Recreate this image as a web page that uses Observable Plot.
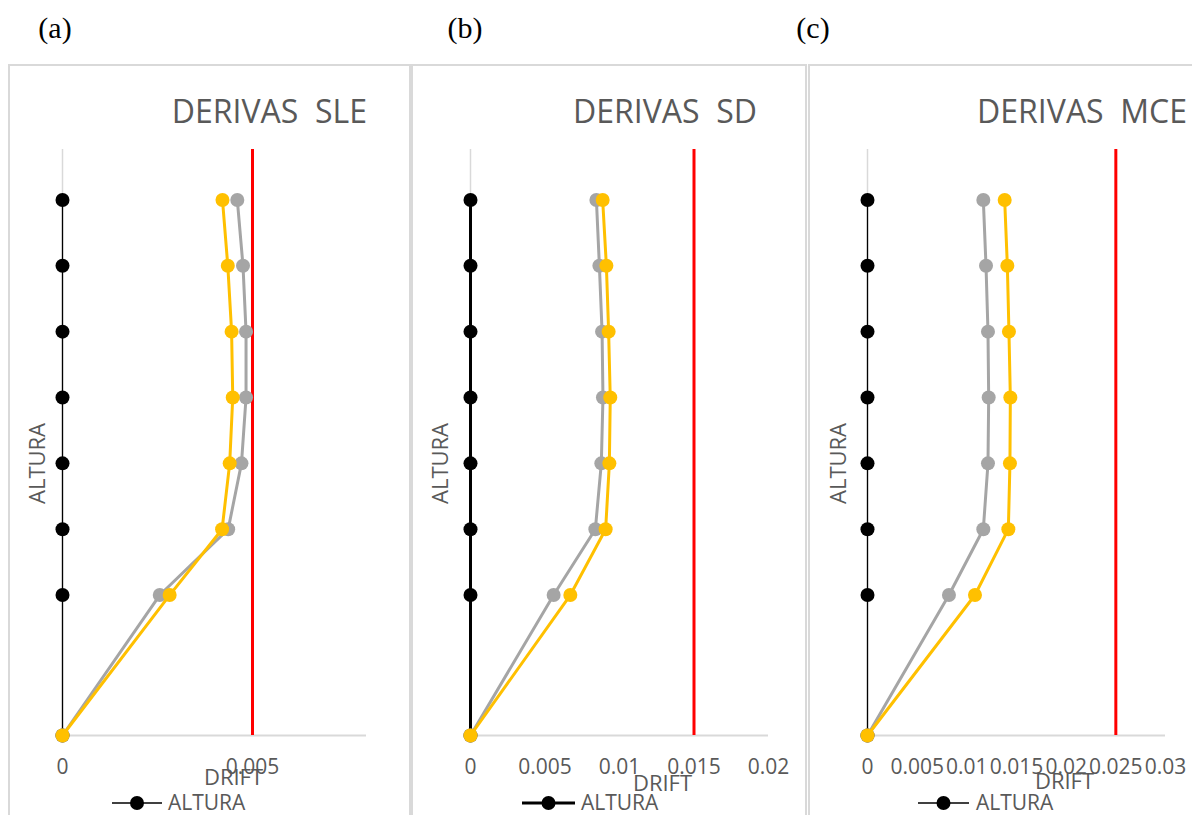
<!DOCTYPE html>
<html><head><meta charset="utf-8">
<script src="https://cdn.jsdelivr.net/npm/d3@7"></script>
<script src="https://cdn.jsdelivr.net/npm/@observablehq/plot@0.6"></script>
<style>
body{margin:0;background:#fff;}
#root{position:relative;width:1192px;height:815px;overflow:hidden;background:#fff;}
.panel{position:absolute;border:2px solid #d9d9d9;box-sizing:border-box;}
.chart{position:absolute;top:65px;}
#overlay{position:absolute;left:0;top:0;}
</style></head><body><div id="root"></div>
<script>
// ---- data ----
const heights = [0, 6.4, 9.4, 12.4, 15.4, 18.4, 21.4, 24.4];
const alturaX = [0, 0, 0, 0, 0, 0, 0, 0];

const sleGray   = [0, 0.00256, 0.00436, 0.00471, 0.00483, 0.00483, 0.00475, 0.00460];
const sleOrange = [0, 0.00282, 0.00420, 0.00440, 0.00448, 0.00445, 0.00435, 0.00421];
const sdGray    = [0, 0.00558, 0.00838, 0.00878, 0.00889, 0.00883, 0.00865, 0.00845];
const sdOrange  = [0, 0.00670, 0.00907, 0.00932, 0.00938, 0.00927, 0.00912, 0.00887];
const mceGray   = [0, 0.00820, 0.01166, 0.01213, 0.01220, 0.01213, 0.01193, 0.01166];
const mceOrange = [0, 0.01082, 0.01418, 0.01434, 0.01438, 0.01424, 0.01408, 0.01381];

const limits = [0.005, 0.015, 0.025];
const xMaxes = [0.008, 0.02, 0.03];
const xTicksA = [0, 0.005];
const xTicksB = [0, 0.005, 0.01, 0.015, 0.02];
const xTicksC = [0, 0.005, 0.01, 0.015, 0.02, 0.025, 0.03];
const titles = ["DERIVAS  SLE", "DERIVAS  SD", "DERIVAS  MCE"];
const tags = ["(a)", "(b)", "(c)"];
const yMax = 26.7;

const C_GRAY = "#A5A5A5", C_ORANGE = "#FFC000", C_TEXT = "#595959", C_AXIS = "#D9D9D9";

const panels = [
  {left: 9,   width: 401, ml: 53, mr: 44, gray: sleGray, orange: sleOrange, limit: limits[0], xMax: xMaxes[0], ticks: xTicksA, blackW: 1.3, driftDx: 19, driftDy: 42, yLabDx: -25},
  {left: 412, width: 394, ml: 58, mr: 38, gray: sdGray, orange: sdOrange, limit: limits[1], xMax: xMaxes[1], ticks: xTicksB, blackW: 3, driftDx: 43, driftDy: 48, yLabDx: -30},
  {left: 809, width: 383, ml: 58, mr: 27, gray: mceGray, orange: mceOrange, limit: limits[2], xMax: xMaxes[2], ticks: xTicksC, blackW: 1.3, driftDx: 48, driftDy: 46, yLabDx: -29}
];

const root = document.getElementById("root");

// panel borders
[[8, 64, 403, 800], [411, 64, 396, 800], [808, 64, 420, 800]].forEach(([l, t, w, h]) => {
  const d = document.createElement("div");
  d.className = "panel";
  Object.assign(d.style, {left: l + "px", top: t + "px", width: w + "px", height: h + "px"});
  root.appendChild(d);
});

panels.forEach((p) => {
  const toRows = (xs) => xs.map((x, i) => ({x, y: heights[i]}));
  const black = toRows(alturaX), gray = toRows(p.gray), orange = toRows(p.orange);
  const chart = Plot.plot({
    width: p.width, height: 750,
    marginLeft: p.ml, marginRight: p.mr, marginTop: 84, marginBottom: 80,
    style: {background: "transparent", fontFamily: "'Open Sans', sans-serif", fontSize: "21px", color: C_TEXT},
    x: {domain: [0, p.xMax]},
    y: {domain: [0, yMax]},
    marks: [
      Plot.ruleX([0], {stroke: C_AXIS, strokeWidth: 1.5}),
      Plot.ruleY([0], {stroke: C_AXIS, strokeWidth: 2}),
      Plot.ruleX([p.limit], {stroke: "#FF0000", strokeWidth: 3}),
      Plot.axisX({ticks: p.ticks, tickFormat: (d) => String(d), tickSize: 0, tickPadding: 24, fill: C_TEXT, fontSize: 21, label: null}),
      Plot.axisY({ticks: [], label: null}),
      Plot.line(black, {x: "x", y: "y", stroke: "#000", strokeWidth: p.blackW}),
      Plot.dot(black, {x: "x", y: "y", fill: "#000", r: 7}),
      Plot.line(gray, {x: "x", y: "y", stroke: C_GRAY, strokeWidth: 3}),
      Plot.dot(gray, {x: "x", y: "y", fill: C_GRAY, r: 7}),
      Plot.line(orange, {x: "x", y: "y", stroke: C_ORANGE, strokeWidth: 3}),
      Plot.dot(orange, {x: "x", y: "y", fill: C_ORANGE, r: 7}),
      Plot.text(["DRIFT"], {frameAnchor: "bottom", textAnchor: "middle", lineAnchor: "middle", dx: p.driftDx, dy: p.driftDy, fontSize: 22, fill: C_TEXT}),
      Plot.text(["ALTURA"], {frameAnchor: "left", textAnchor: "middle", lineAnchor: "middle", rotate: -90, dx: p.yLabDx, dy: 21, fontSize: 22, fill: C_TEXT})
    ]
  });
  chart.classList.add("chart");
  chart.style.left = p.left + "px";
  chart.style.top = "65px";
  chart.style.position = "absolute";
  root.appendChild(chart);
});

// overlay: tags, titles, legends
const ns = "http://www.w3.org/2000/svg";
const ov = document.createElementNS(ns, "svg");
ov.setAttribute("id", "overlay");
ov.setAttribute("width", 1192);
ov.setAttribute("height", 815);
root.appendChild(ov);
function txt(s, x, y, attrs) {
  const t = document.createElementNS(ns, "text");
  t.textContent = s;
  t.setAttribute("x", x); t.setAttribute("y", y);
  for (const k in attrs) t.setAttribute(k, attrs[k]);
  ov.appendChild(t);
}
[55, 465, 813].forEach((x, i) => txt(tags[i], x, 38, {"text-anchor": "middle", "font-family": "'Liberation Serif', 'Times New Roman', serif", "font-size": 30, fill: "#000"}));
[367, 757, 1187].forEach((x, i) => txt(titles[i], x, 123, {"text-anchor": "end", "font-family": "'Open Sans', sans-serif", "font-size": 32, fill: C_TEXT, style: "white-space:pre"}));
[[112, 162, 168, 1.3], [522, 575, 581, 3], [918, 969, 976, 1.3]].forEach(([a, b, tx, w]) => {
  const l = document.createElementNS(ns, "line");
  l.setAttribute("x1", a); l.setAttribute("x2", b); l.setAttribute("y1", 803); l.setAttribute("y2", 803);
  l.setAttribute("stroke", "#000"); l.setAttribute("stroke-width", w);
  ov.appendChild(l);
  const c = document.createElementNS(ns, "circle");
  c.setAttribute("cx", (a + b) / 2); c.setAttribute("cy", 803); c.setAttribute("r", 7); c.setAttribute("fill", "#000");
  ov.appendChild(c);
  txt("ALTURA", tx, 810, {"font-family": "'Open Sans', sans-serif", "font-size": 21, fill: C_TEXT});
});
</script></body></html>
